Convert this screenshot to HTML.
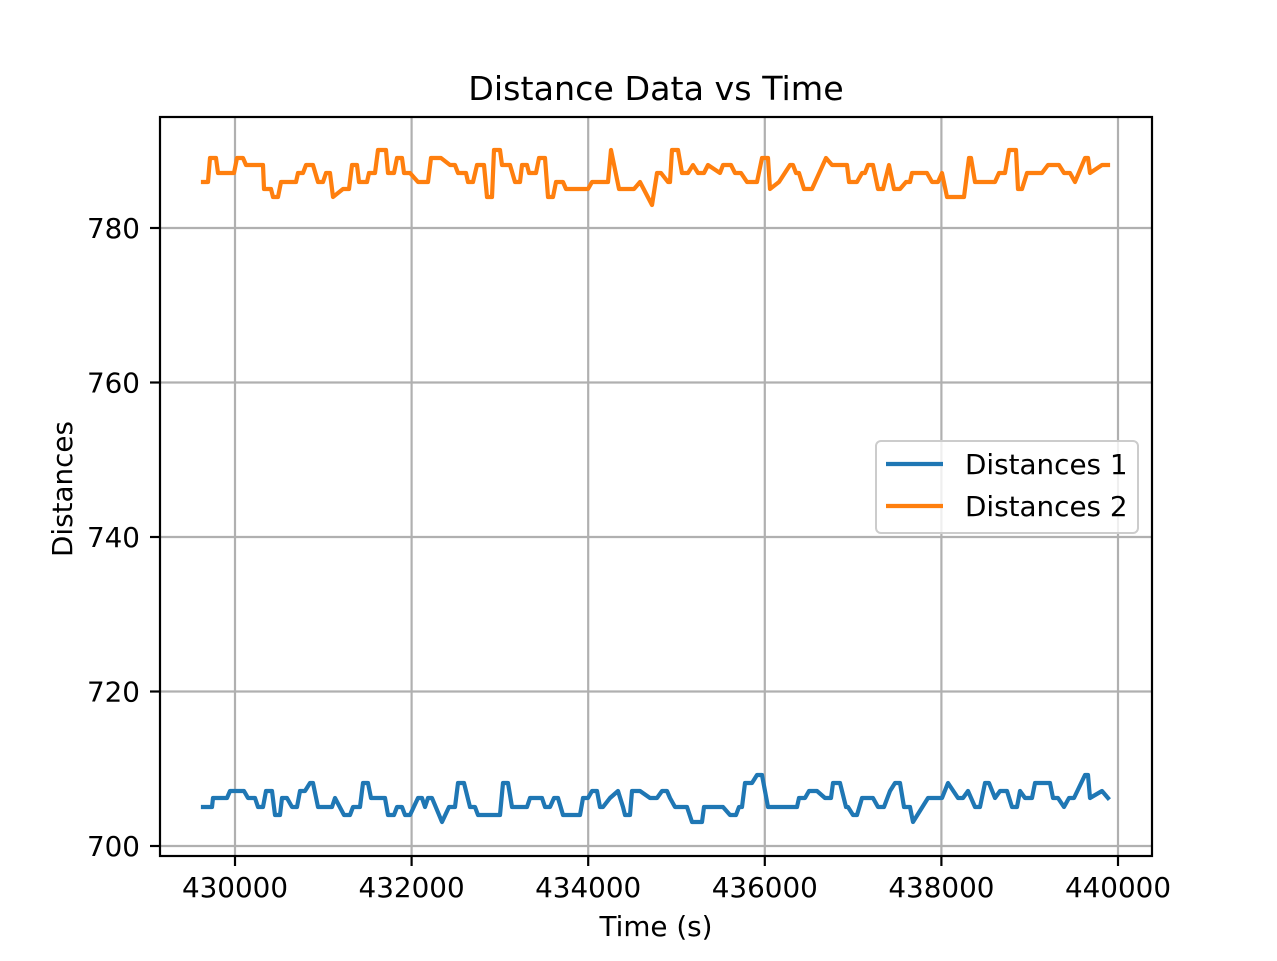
<!DOCTYPE html>
<html><head><style>body{margin:0;background:#fff}svg{display:block}</style></head><body>
<svg width="1277" height="961" viewBox="0 0 1277 961" xmlns="http://www.w3.org/2000/svg" font-family="DejaVu Sans, sans-serif">
<rect width="1277" height="961" fill="#fff"/>
<g stroke="#b0b0b0" stroke-width="2.2">
<line x1="235" y1="117" x2="235" y2="856"/><line x1="411.6" y1="117" x2="411.6" y2="856"/><line x1="588.2" y1="117" x2="588.2" y2="856"/><line x1="764.8" y1="117" x2="764.8" y2="856"/><line x1="941.4" y1="117" x2="941.4" y2="856"/><line x1="1118" y1="117" x2="1118" y2="856"/>
<line x1="160" y1="846" x2="1152" y2="846"/><line x1="160" y1="691.5" x2="1152" y2="691.5"/><line x1="160" y1="537" x2="1152" y2="537"/><line x1="160" y1="382.5" x2="1152" y2="382.5"/><line x1="160" y1="228" x2="1152" y2="228"/>
</g>
<g fill="none" stroke-width="4.2" stroke-linejoin="round" stroke-linecap="square">
<polyline stroke="#ff7f0e" points="203,182 208,182 210,158 216,158 218,173 234,173 237,158 243,158 246,165 263,165 264,189 271,189 273,197 278,197 281,182 296,182 298,173 303,173 306,165 313,165 318,182 323,182 326,173 330,173 333,197 343,189 349,189 352,165 357,165 359,182 367,182 369,173 375,173 378,150 386,150 388,173 394,173 397,158 402,158 404,173 410,173 418,182 428,182 431,158 441,158 450,165 455,165 458,173 466,173 468,182 473,182 477,165 484,165 487,197 492,197 494,150 500,150 502,165 510,165 515,182 520,182 522,165 527,165 529,173 536,173 539,158 545,158 548,197 553,197 556,182 563,182 566,189 588,189 592,182 608,182 611,150 619,189 634,189 640,182 652,205 657,173 661,173 668,182 670,182 672,150 678,150 682,173 688,173 693,165 698,173 704,173 708,165 720,173 723,165 731,165 735,173 741,173 747,182 757,182 762,158 768,158 770,189 779,182 790,165 793,165 796,173 799,173 804,189 812,189 826,158 832,165 847,165 849,182 857,182 862,173 865,173 868,165 873,165 878,189 883,189 889,165 894,189 900,189 906,182 910,182 912,173 927,173 932,182 938,182 942,173 947,197 964,197 969,158 971,158 975,182 995,182 999,173 1005,173 1009,150 1016,150 1018,189 1022,189 1027,173 1042,173 1048,165 1059,165 1064,173 1070,173 1075,182 1085,158 1088,158 1090,173 1102,165 1108,165"/>
<polyline stroke="#1f77b4" points="203,807 212,807 213,798 227,798 230,791 244,791 248,798 255,798 258,807 263,807 266,791 272,791 275,815 280,815 282,798 287,798 292,807 297,807 300,791 305,791 310,783 313,783 318,807 332,807 335,798 344,815 350,815 353,807 360,807 363,783 368,783 371,798 385,798 388,815 394,815 397,807 402,807 405,815 410,815 418,798 422,798 425,807 428,798 432,798 442,822 449,807 455,807 458,783 464,783 470,807 475,807 478,815 500,815 503,783 508,783 512,807 527,807 530,798 542,798 545,807 550,807 554,798 558,798 563,815 580,815 583,798 588,798 592,791 597,791 600,807 603,807 610,798 618,791 623,807 625,815 630,815 632,791 640,791 650,798 657,798 662,791 667,791 670,798 675,807 687,807 692,822 702,822 704,807 723,807 730,815 736,815 739,807 742,807 745,783 752,783 757,775 762,775 768,807 797,807 799,798 805,798 809,791 817,791 825,798 831,798 833,783 840,783 846,807 848,807 853,815 857,815 862,798 873,798 878,807 884,807 890,791 895,783 900,783 904,807 910,807 913,822 928,798 942,798 948,783 958,798 963,798 968,791 975,807 980,807 985,783 989,783 995,798 1000,791 1007,791 1012,807 1017,807 1020,791 1025,798 1032,798 1035,783 1050,783 1053,798 1058,798 1064,807 1069,798 1074,798 1085,775 1088,775 1090,798 1102,791 1108,798"/>
</g>
<rect x="160" y="117" width="992" height="739" fill="none" stroke="#000" stroke-width="2.2"/>
<g stroke="#000" stroke-width="2.2">
<line x1="235" y1="856" x2="235" y2="866"/><line x1="411.6" y1="856" x2="411.6" y2="866"/><line x1="588.2" y1="856" x2="588.2" y2="866"/><line x1="764.8" y1="856" x2="764.8" y2="866"/><line x1="941.4" y1="856" x2="941.4" y2="866"/><line x1="1118" y1="856" x2="1118" y2="866"/>
<line x1="150" y1="846" x2="160" y2="846"/><line x1="150" y1="691.5" x2="160" y2="691.5"/><line x1="150" y1="537" x2="160" y2="537"/><line x1="150" y1="382.5" x2="160" y2="382.5"/><line x1="150" y1="228" x2="160" y2="228"/>
</g>
<g font-size="27.8" fill="#000" text-anchor="middle">
<text x="235" y="897">430000</text><text x="411.6" y="897">432000</text><text x="588.2" y="897">434000</text><text x="764.8" y="897">436000</text><text x="941.4" y="897">438000</text><text x="1118" y="897">440000</text>
</g>
<g font-size="27.8" fill="#000" text-anchor="end">
<text x="140" y="856">700</text><text x="140" y="701.5">720</text><text x="140" y="547">740</text><text x="140" y="392.5">760</text><text x="140" y="238">780</text>
</g>
<text x="656" y="100" font-size="33.3" text-anchor="middle">Distance Data vs Time</text>
<text x="656" y="936" font-size="27.8" text-anchor="middle">Time (s)</text>
<text transform="translate(72,489) rotate(-90)" font-size="27.8" text-anchor="middle">Distances</text>
<rect x="876" y="441" width="262" height="92" rx="5" fill="#fff" fill-opacity="0.8" stroke="#ccc" stroke-width="2"/>
<line x1="886" y1="464" x2="943" y2="464" stroke="#1f77b4" stroke-width="4.2"/>
<line x1="886" y1="506" x2="943" y2="506" stroke="#ff7f0e" stroke-width="4.2"/>
<text x="965" y="474" font-size="27.8">Distances 1</text>
<text x="965" y="516" font-size="27.8">Distances 2</text>
</svg>
</body></html>
